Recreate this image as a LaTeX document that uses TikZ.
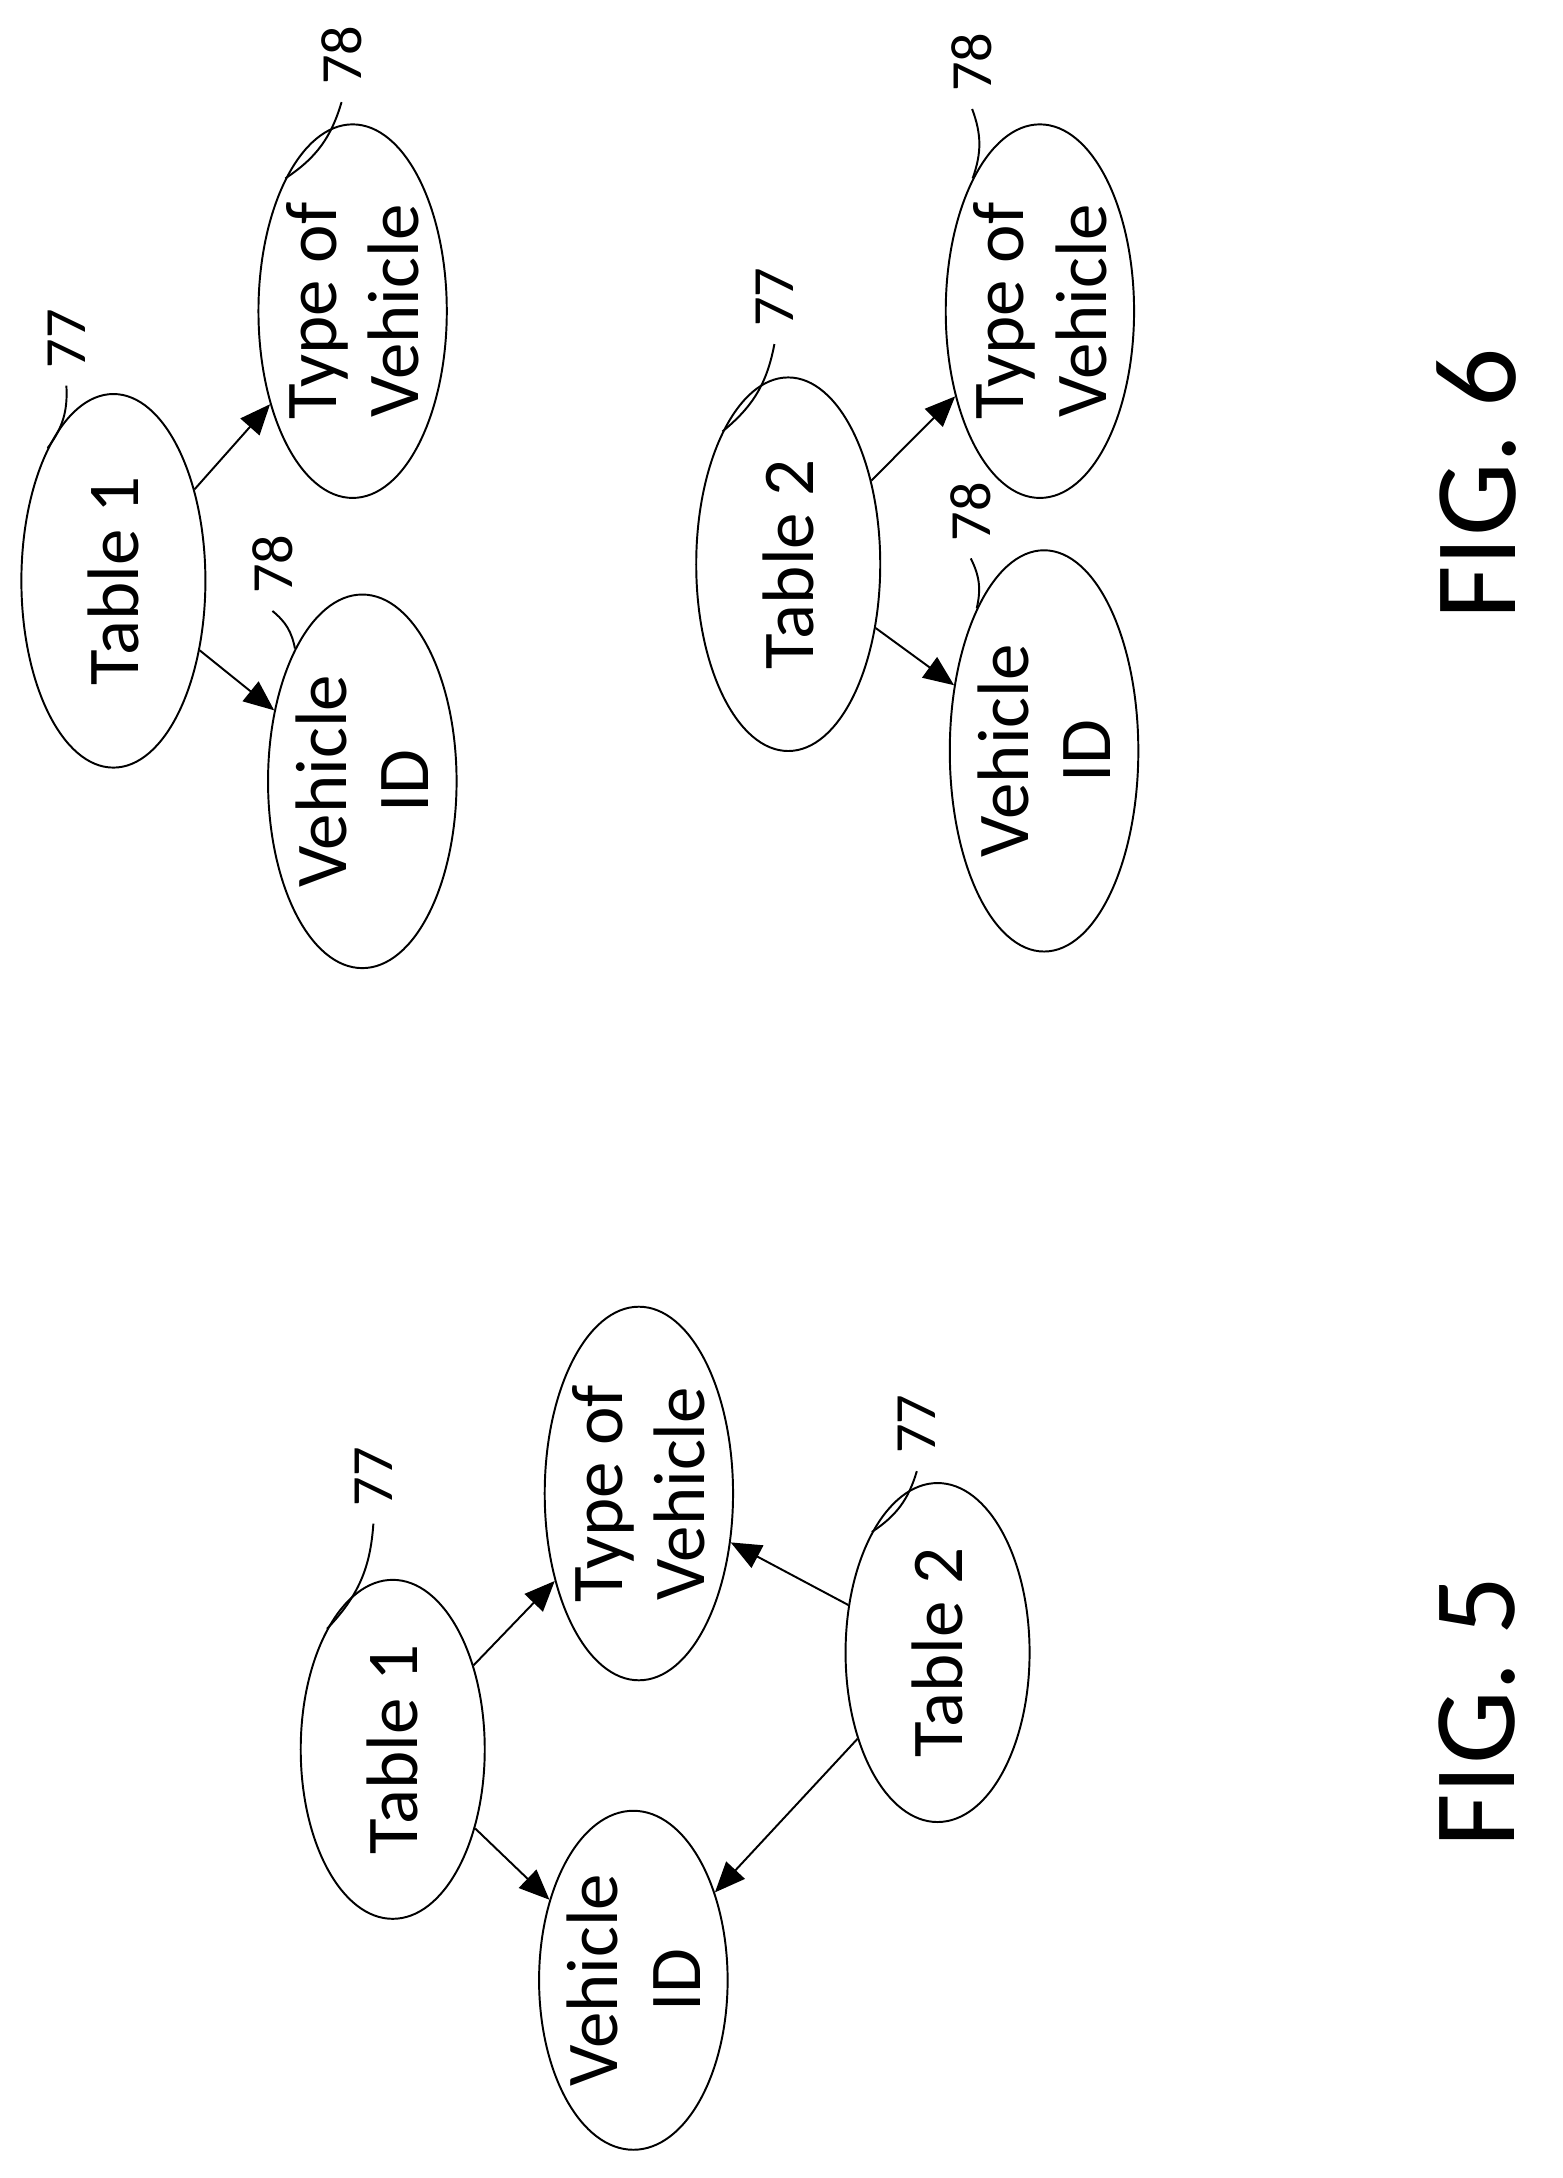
\documentclass[tikz,border=0pt]{standalone}
\usepackage{fontspec}
\setmainfont{Carlito}
\usetikzlibrary{arrows}
\usetikzlibrary{shapes.geometric}
\tikzset{oval/.style={draw,ellipse,rotate=90,inner sep=0pt,minimum width=2.45cm,minimum height=1.33cm,font=\fontsize{15}{17}\selectfont,align=center}}
\tikzset{refnum/.style={rotate=90,font=\fontsize{12}{14}\selectfont}}
\tikzset{link/.style={draw,->,>=triangle 45}}

\begin{document}
\begin{tikzpicture}[x=0.01cm,y=-0.01cm]
        \useasboundingbox (0,0) rectangle (1130,1575);
        % FIG. 5
        \node[oval] (t1) at (284,1265) {Table 1};
        \node[oval] (t2) at (678,1195) {Table 2};
        \node[oval] (vid) at (458,1432) {Vehicle\\ID};
        \node[oval,minimum width=2.7cm] (typ) at (462,1080) {Type of\\Vehicle};
            \path[link] (t1) -- (vid);
            \path[link] (t1) -- (typ);
            \path[link] (t2) -- (vid);
            \path[link] (t2) -- (typ);
        \node[refnum] (n1) at (270,1068) {77};
            \draw (n1.west) to[bend left=20] (t1.north east);
        \node[refnum] (n2) at (663,1030) {77};
            \draw (n2.west) to[bend left=20] (t2.north east);
        \node[rotate=90,font=\fontsize{24}{26}\selectfont] (f5) at (1068,1238) {FIG. 5};
        % FIG. 6
        \node[oval,minimum width=2.7cm] (a1) at (82,420) {Table 1};
        \node[oval,minimum width=2.7cm] (avid) at (262,565) {Vehicle\\ID};
        \node[oval,minimum width=2.7cm] (atyp) at (255,225) {Type of\\Vehicle};
            \path[link] (a1) -- (avid);
            \path[link] (a1) -- (atyp);
        \node[refnum] (m1) at (48,245) {77};
            \draw (m1.west) to[bend left=20] (a1.north east);
        \node[refnum] (m2) at (197,408) {78};
            \draw (m2.west) to[bend left=20] (avid.north east);
        \node[refnum] (m3) at (247,40) {78};
            \draw (m3.west) to[bend left=20] (atyp.north east);
        \node[oval,minimum width=2.7cm] (b1) at (570,408) {Table 2};
        \node[oval,minimum width=2.9cm] (bvid) at (755,543) {Vehicle\\ID};
        \node[oval,minimum width=2.7cm] (btyp) at (752,225) {Type of\\Vehicle};
            \path[link] (b1) -- (bvid);
            \path[link] (b1) -- (btyp);
        \node[refnum] (k1) at (560,215) {77};
            \draw (k1.west) to[bend left=20] (b1.north east);
        \node[refnum] (k2) at (702,370) {78};
            \draw (k2.west) to[bend left=20] (bvid.north east);
        \node[refnum] (k3) at (703,45) {78};
            \draw (k3.west) to[bend left=20] (btyp.north east);
        \node[rotate=90,font=\fontsize{24}{26}\selectfont] (f6) at (1068,350) {FIG. 6};
    \end{tikzpicture}
\end{document}
